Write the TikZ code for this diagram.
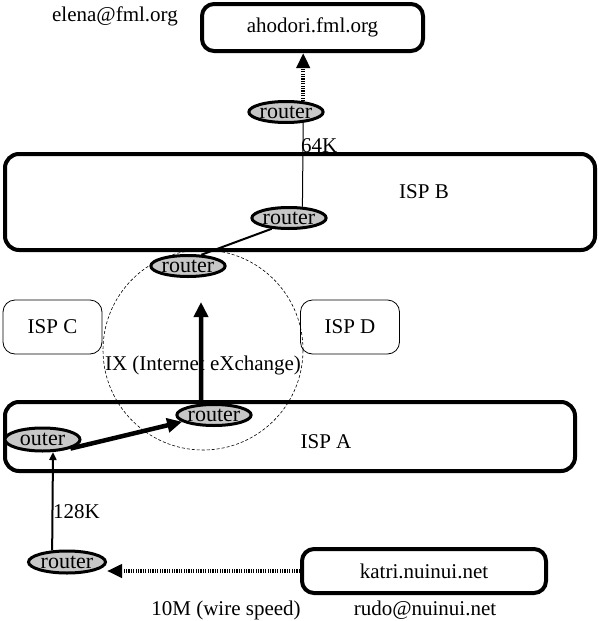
\documentclass[tikz,border=0pt]{standalone}
\usepackage{fontspec}
\setmainfont{Liberation Serif}
\usetikzlibrary{shapes,arrows.meta,positioning,calc}

\tikzset{
  host/.style={draw, line width=4pt, rounded corners=12pt},
  isp/.style={draw, line width=4pt, rounded corners=14pt},
  smallisp/.style={draw, line width=0.8pt, rounded corners=12pt, minimum width=99pt, minimum height=54pt},
  router/.style={ellipse, draw, line width=3pt, fill=black!22, inner sep=0pt, minimum width=73pt, minimum height=21pt, font=\fontsize{22}{24}\selectfont},
  bigarrow/.style={line width=4.5pt, -{Triangle[length=15pt,width=14pt]}},
  dotarrow/.style={line width=4pt, dash pattern=on 1.2pt off 1.2pt, -{Triangle[length=15pt,width=13pt]}},
  link/.style={line width=1pt},
  ixring/.style={circle, draw, line width=0.6pt, dash pattern=on 3pt off 2pt, minimum size=200pt, inner sep=0pt},
}

\begin{document}
\begin{tikzpicture}[x=1pt, y=-1pt, font=\fontsize{21}{25}\selectfont]
    \useasboundingbox (0,0) rectangle (599,621);

    % IX circle
    \node[ixring] (ix) at (203,350) {};
    \node (ixlabel) at (203,365) {IX (Internet eXchange)};

    % Boxes
    \node[host, minimum width=221pt, minimum height=47pt] (ahodori) at (312.5,27.5) {ahodori.fml.org};
    \node (elena) at (115,16) {elena@fml.org};
    \node[isp, minimum width=590pt, minimum height=96pt] (ispB) at (300,202) {};
    \node (ispBlabel) at (424,192) {ISP B};
    \node[smallisp] (ispC) at (52.5,327) {ISP C};
    \node[smallisp] (ispD) at (350,327) {ISP D};
    \node[isp, minimum width=570pt, minimum height=69pt] (ispA) at (290,436.5) {};
    \node (ispAlabel) at (326,442) {ISP A};
    \node[host, minimum width=244pt, minimum height=44pt] (katri) at (424,571) {katri.nuinui.net};
    \node (rudo) at (425,610) {rudo@nuinui.net};

    % Routers
    \node[router] (r1) at (286,112) {router};
    \node[router] (r2) at (289,218) {router};
    \node[router] (r3) at (188,266) {router};
    \node[router] (r4) at (214,415) {router};
    \node[router, minimum width=75pt, minimum height=23pt] (r5) at (42.5,439.5) {outer};
    \node[router, minimum width=77pt, minimum height=22pt] (r6) at (67,562) {router};

    % Links
    \draw[dotarrow] (r1.32) -- (r1.32 |- ahodori.south);
    \draw[link] (r1.-32) -- (r2.40);
    \node[anchor=west, inner sep=0pt] (k64) at (301,146) {64K};
    \draw[line width=2pt] (r2.212) -- (r3.40);
    \coordinate (ixtip) at (201,302);
    \draw[bigarrow] (r4.139) -- (ixtip);
    \draw[bigarrow] (r5.-18) -- (r4.192);
    \draw[line width=2pt, -{Triangle[length=8pt,width=7pt]}] (r6.142) -- (r5.-50);
    \node[anchor=west, inner sep=0pt] (k128) at (53,512) {128K};
    \draw[dotarrow] (katri.west) -- (katri.west -| r6.east);
    \node (wire) at (226,610) {10M (wire speed)};
\end{tikzpicture}
\end{document}
